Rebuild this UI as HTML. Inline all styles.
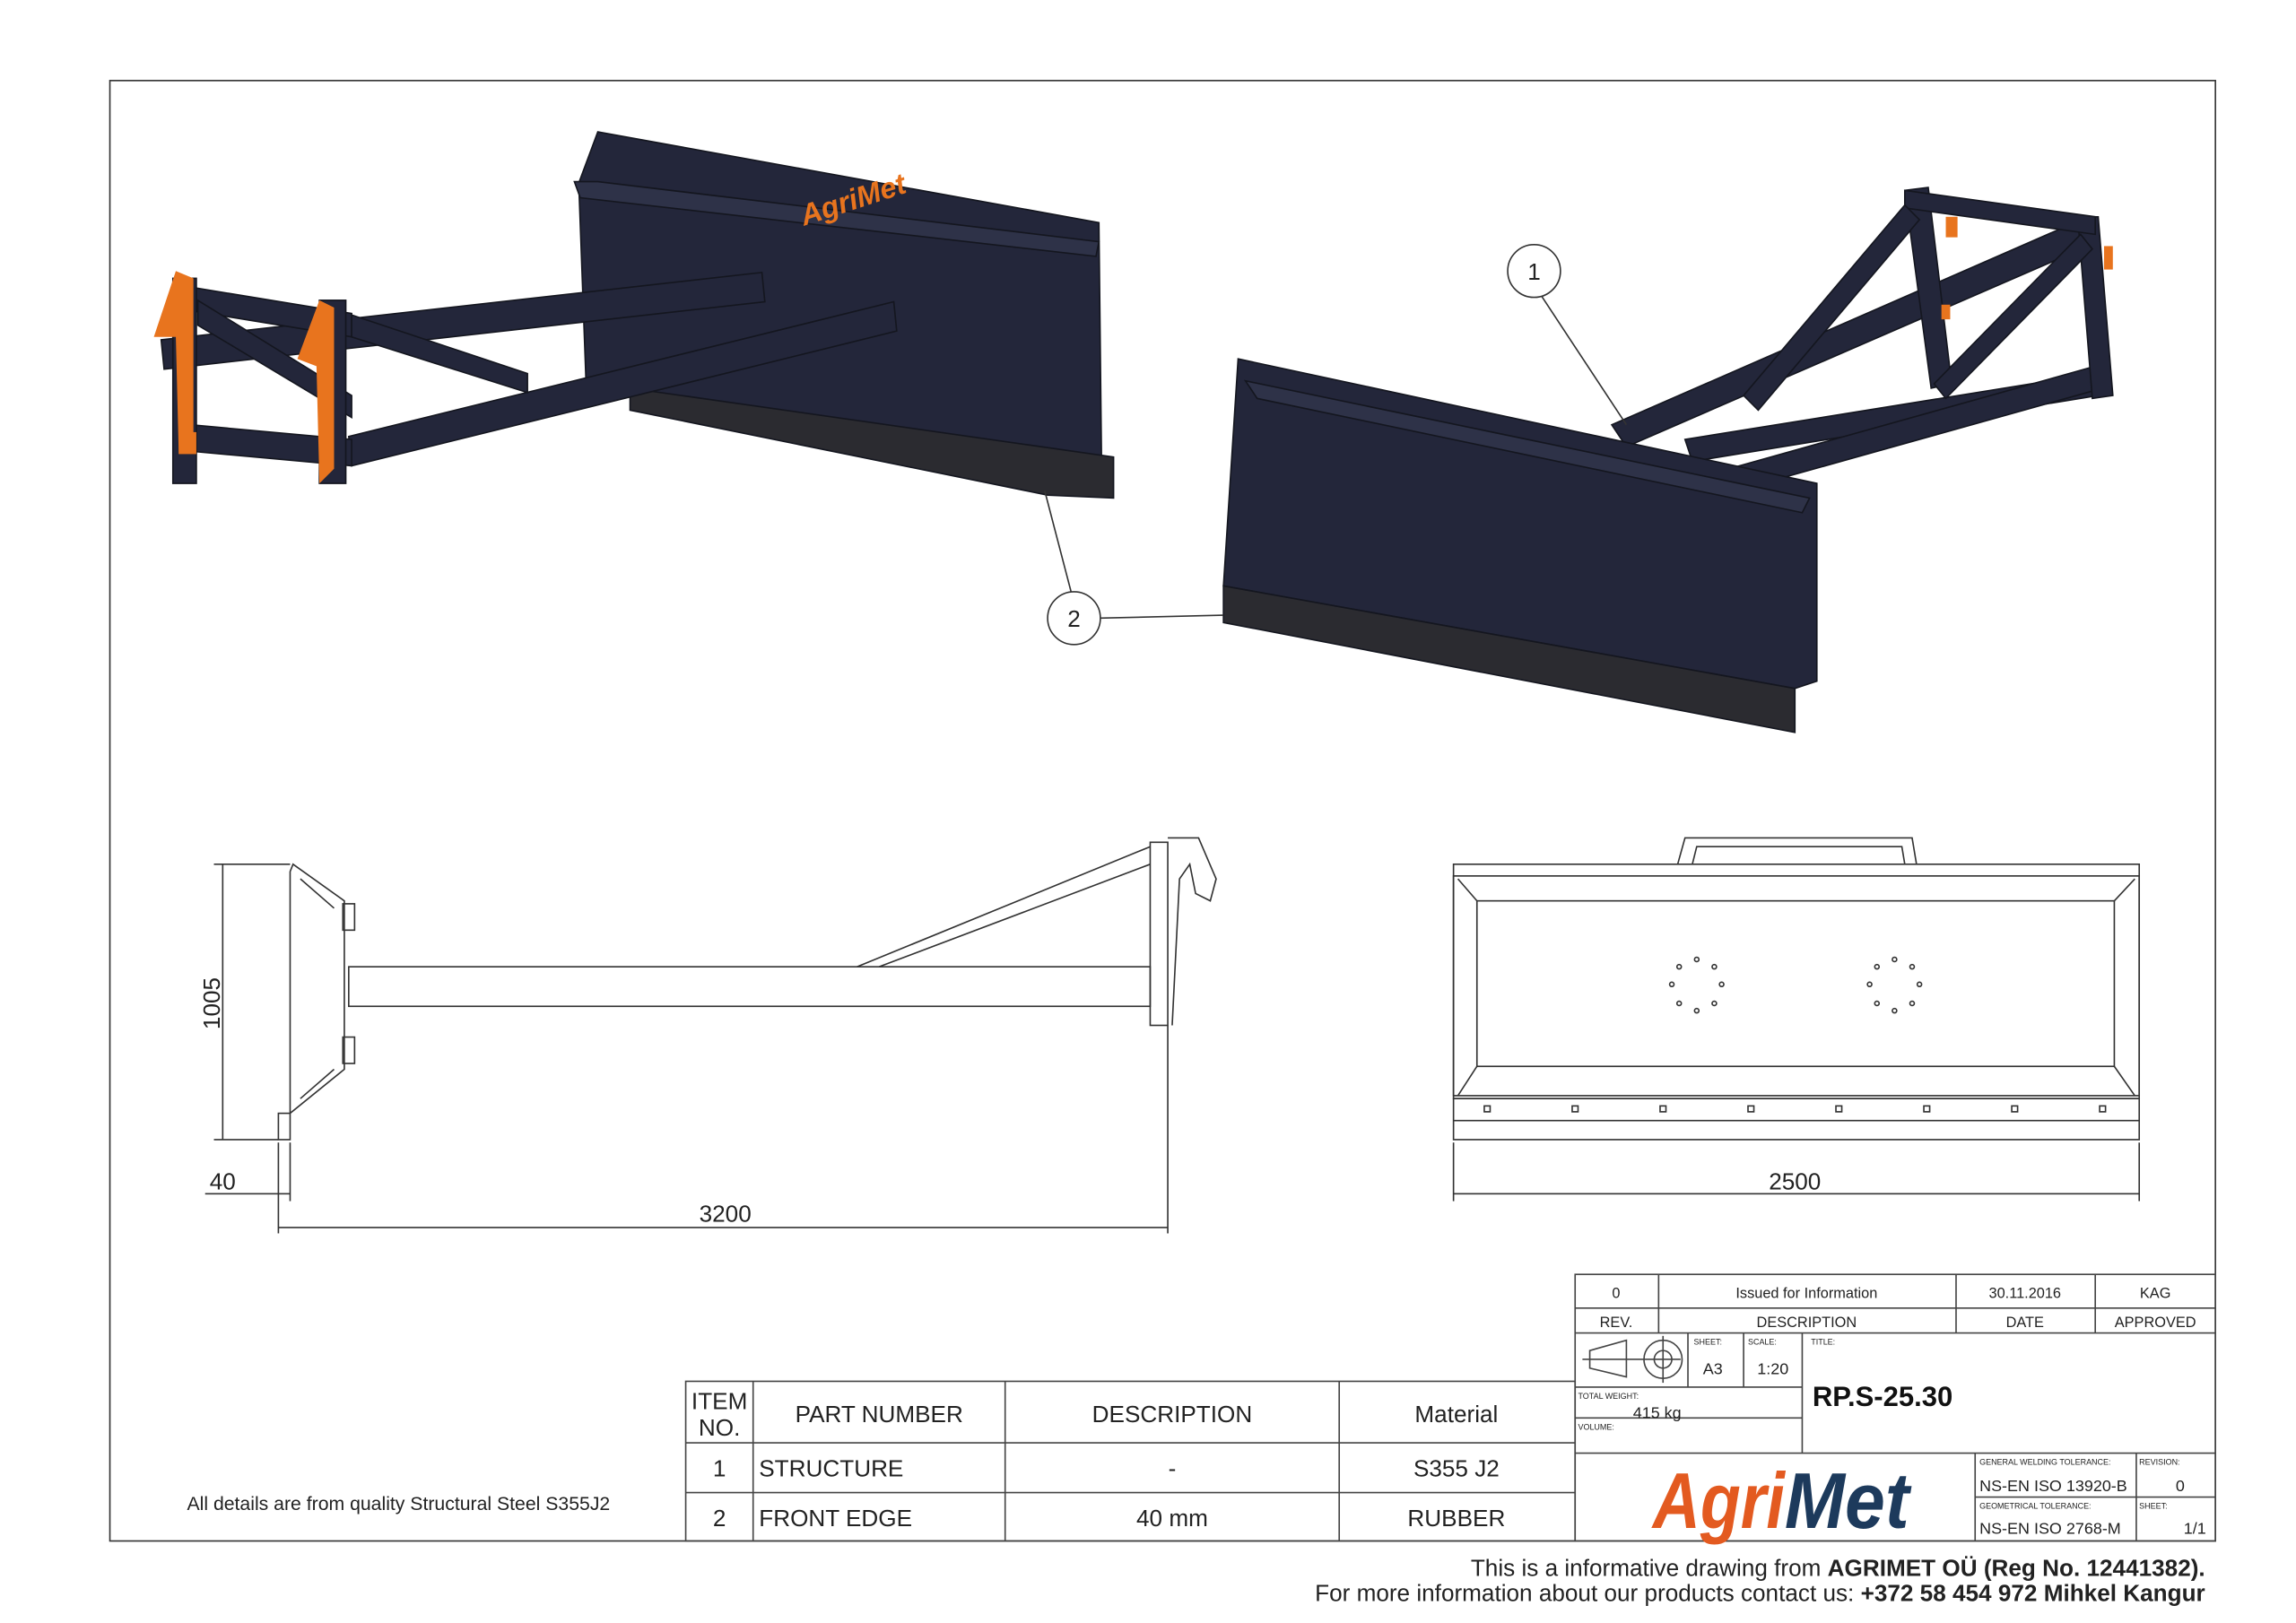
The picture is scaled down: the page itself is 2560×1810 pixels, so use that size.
<!DOCTYPE html>
<html><head><meta charset="utf-8"><style>
html,body{margin:0;padding:0;background:#fff;}
svg{display:block;}
text{font-family:"Liberation Sans",sans-serif;fill:#222;}
</style></head><body>
<svg width="2560" height="1810" viewBox="0 0 1567 1108" preserveAspectRatio="none" xmlns="http://www.w3.org/2000/svg">
<rect x="75" y="55" width="1437" height="997" fill="none" stroke="#333" stroke-width="1"/>

<!-- Left 3D view -->
<g fill="#23263a" stroke="#14161f" stroke-width="1">
<polygon points="395,125 408,90 750,152 752,335 715,330 430,268 400,262"/>
<polygon points="430,265 760,312 760,340 715,338 430,280" fill="#2b2b30"/>
<polygon points="392,124 408,124 750,165 748,175 396,135" fill="#2e3248"/>
<polygon points="110,232 520,186 522,206 112,252"/>
<polygon points="238,298 610,206 612,226 240,318"/>
<polygon points="130,290 240,300 240,318 130,308"/>
<polygon points="130,196 240,214 240,230 130,212"/>
<polygon points="135,205 240,270 240,285 135,222"/>
<polygon points="240,215 360,255 360,268 240,230"/>
<rect x="118" y="190" width="16" height="140"/>
<rect x="218" y="205" width="18" height="125"/>
</g>
<g fill="#e8741e">
<polygon points="105,230 120,185 132,190 132,300 122,310 120,230"/>
<polygon points="203,245 218,205 228,210 228,320 218,330 216,250"/>
<rect x="122" y="295" width="12" height="15"/>
</g>
<text x="545" y="150" font-size="20" fill="#e8741e" transform="rotate(-18 560 140)" style="fill:#e8741e;font-weight:bold;font-style:italic">AgriMet</text>

<!-- Right 3D view -->
<g fill="#23263a" stroke="#14161f" stroke-width="1">
<polygon points="1100,290 1425,148 1432,165 1110,305"/>
<polygon points="1150,300 1430,255 1432,270 1155,315"/>
<polygon points="1180,320 1430,250 1435,265 1185,335"/>
<polygon points="1300,130 1316,128 1332,262 1318,265"/>
<polygon points="1418,148 1432,148 1442,270 1428,272"/>
<polygon points="1300,130 1430,148 1430,160 1300,142"/>
<polygon points="1190,270 1300,140 1310,150 1200,280"/>
<polygon points="1320,262 1420,160 1428,170 1328,272"/>
<polygon points="845,245 1240,330 1240,465 1225,470 835,400"/>
<polygon points="835,400 1225,470 1225,500 835,425" fill="#2b2b30"/>
<polygon points="850,260 1235,340 1230,350 858,272" fill="#2e3248"/>
</g>
<g fill="#e8741e"><rect x="1328" y="148" width="8" height="14"/><rect x="1436" y="168" width="6" height="16"/><rect x="1325" y="208" width="6" height="10"/></g>

<!-- callouts -->
<g fill="#fff" stroke="#333" stroke-width="1">
<line x1="1052" y1="202" x2="1110" y2="290"/>
<circle cx="1047" cy="185" r="18"/>
<line x1="731" y1="404" x2="713" y2="335"/>
<line x1="751" y1="422" x2="835" y2="420"/>
<circle cx="733" cy="422" r="18"/>
</g>
<text x="1047" y="191" font-size="16" text-anchor="middle">1</text>
<text x="733" y="428" font-size="16" text-anchor="middle">2</text>

<!-- Side view -->
<g fill="none" stroke="#333" stroke-width="1">
<polygon points="200,590 235,615 235,730 198,760 190,760 190,778 198,778 198,595"/>
<line x1="205" y1="600" x2="228" y2="620"/>
<line x1="205" y1="750" x2="228" y2="730"/>
<rect x="234" y="617" width="8" height="18"/><rect x="234" y="708" width="8" height="18"/>
<rect x="238" y="660" width="547" height="27"/>
<line x1="585" y1="660" x2="785" y2="578"/>
<line x1="600" y1="660" x2="785" y2="590"/>
<rect x="785" y="575" width="12" height="125"/>
<path d="M797,572 L818,572 L830,600 L826,615 L816,610 L812,590 L805,600 L800,700"/>
<line x1="152" y1="590" x2="152" y2="778"/>
<line x1="146" y1="590" x2="198" y2="590"/>
<line x1="146" y1="778" x2="190" y2="778"/>
<line x1="190" y1="780" x2="190" y2="842"/>
<line x1="797" y1="700" x2="797" y2="842"/>
<line x1="198" y1="780" x2="198" y2="820"/>
<line x1="190" y1="838" x2="797" y2="838"/>
<line x1="140" y1="815" x2="198" y2="815"/>
</g>
<text x="150" y="685" font-size="16" text-anchor="middle" transform="rotate(-90 150 685)">1005</text>
<text x="495" y="834" font-size="16" text-anchor="middle">3200</text>
<text x="152" y="812" font-size="16" text-anchor="middle">40</text>

<!-- Front view -->
<g fill="none" stroke="#333" stroke-width="1">
<path d="M1145,590 L1150,572 L1305,572 L1308,590 M1155,590 L1158,578 L1298,578 L1300,590"/>
<rect x="992" y="590" width="468" height="160"/>
<rect x="992" y="598" width="468" height="150"/>
<rect x="1008" y="615" width="435" height="113"/>
<line x1="995" y1="600" x2="1008" y2="615"/><line x1="1457" y1="600" x2="1443" y2="615"/>
<line x1="995" y1="748" x2="1008" y2="728"/><line x1="1457" y1="748" x2="1443" y2="728"/>
<rect x="992" y="750" width="468" height="28"/>
<line x1="992" y1="765" x2="1460" y2="765"/>
<line x1="992" y1="780" x2="992" y2="820"/><line x1="1460" y1="780" x2="1460" y2="820"/>
<line x1="992" y1="815" x2="1460" y2="815"/>
</g>
<g fill="none" stroke="#333" stroke-width="1">
<rect x="1013" y="755" width="4" height="4"/><rect x="1073" y="755" width="4" height="4"/><rect x="1133" y="755" width="4" height="4"/><rect x="1193" y="755" width="4" height="4"/><rect x="1253" y="755" width="4" height="4"/><rect x="1313" y="755" width="4" height="4"/><rect x="1373" y="755" width="4" height="4"/><rect x="1433" y="755" width="4" height="4"/>
<circle cx="1158" cy="655" r="1.5"/><circle cx="1170" cy="660" r="1.5"/><circle cx="1175" cy="672" r="1.5"/><circle cx="1170" cy="685" r="1.5"/><circle cx="1158" cy="690" r="1.5"/><circle cx="1146" cy="685" r="1.5"/><circle cx="1141" cy="672" r="1.5"/><circle cx="1146" cy="660" r="1.5"/>
<circle cx="1293" cy="655" r="1.5"/><circle cx="1305" cy="660" r="1.5"/><circle cx="1310" cy="672" r="1.5"/><circle cx="1305" cy="685" r="1.5"/><circle cx="1293" cy="690" r="1.5"/><circle cx="1281" cy="685" r="1.5"/><circle cx="1276" cy="672" r="1.5"/><circle cx="1281" cy="660" r="1.5"/>
</g>
<text x="1225" y="812" font-size="16" text-anchor="middle">2500</text>

<!-- BOM table -->
<g fill="none" stroke="#444" stroke-width="1">
<rect x="468" y="943" width="607" height="109"/>
<line x1="468" y1="985" x2="1075" y2="985"/><line x1="468" y1="1019" x2="1075" y2="1019"/>
<line x1="514" y1="943" x2="514" y2="1052"/><line x1="686" y1="943" x2="686" y2="1052"/><line x1="914" y1="943" x2="914" y2="1052"/>
</g>
<g font-size="16">
<text x="491" y="962" text-anchor="middle">ITEM</text><text x="491" y="980" text-anchor="middle">NO.</text>
<text x="600" y="971" text-anchor="middle">PART NUMBER</text>
<text x="800" y="971" text-anchor="middle">DESCRIPTION</text>
<text x="994" y="971" text-anchor="middle">Material</text>
<text x="491" y="1008" text-anchor="middle">1</text><text x="518" y="1008">STRUCTURE</text><text x="800" y="1008" text-anchor="middle">-</text><text x="994" y="1008" text-anchor="middle">S355 J2</text>
<text x="491" y="1042" text-anchor="middle">2</text><text x="518" y="1042">FRONT EDGE</text><text x="800" y="1042" text-anchor="middle">40 mm</text><text x="994" y="1042" text-anchor="middle">RUBBER</text>
</g>
<text x="272" y="1031" font-size="13" text-anchor="middle">All details are from quality Structural Steel S355J2</text>

<!-- Title block -->
<g fill="none" stroke="#444" stroke-width="1">
<rect x="1075" y="870" width="437" height="182"/>
<line x1="1075" y1="893" x2="1512" y2="893"/><line x1="1075" y1="910" x2="1512" y2="910"/>
<line x1="1132" y1="870" x2="1132" y2="910"/><line x1="1335" y1="870" x2="1335" y2="910"/><line x1="1430" y1="870" x2="1430" y2="910"/>
<line x1="1230" y1="910" x2="1230" y2="992"/>
<line x1="1152" y1="910" x2="1152" y2="947"/><line x1="1190" y1="910" x2="1190" y2="947"/>
<line x1="1075" y1="947" x2="1230" y2="947"/><line x1="1075" y1="968" x2="1230" y2="968"/>
<line x1="1075" y1="992" x2="1512" y2="992"/>
<line x1="1348" y1="992" x2="1348" y2="1052"/><line x1="1458" y1="992" x2="1458" y2="1052"/>
<line x1="1348" y1="1022" x2="1512" y2="1022"/>
<path d="M1085,922 L1110,915 L1110,940 L1085,934 Z"/>
<line x1="1080" y1="928" x2="1147" y2="928"/>
<circle cx="1135" cy="928" r="13"/><circle cx="1135" cy="928" r="6"/>
<line x1="1135" y1="912" x2="1135" y2="944"/>
</g>
<g font-size="10" text-anchor="middle">
<text x="1103" y="886">0</text><text x="1233" y="886">Issued for Information</text><text x="1382" y="886">30.11.2016</text><text x="1471" y="886">KAG</text>
<text x="1103" y="906">REV.</text><text x="1233" y="906">DESCRIPTION</text><text x="1382" y="906">DATE</text><text x="1471" y="906">APPROVED</text>
<text x="1169" y="938" font-size="11">A3</text><text x="1210" y="938" font-size="11">1:20</text>
<text x="1131" y="968" font-size="11">415 kg</text>
<text x="1488" y="1018" font-size="11">0</text><text x="1498" y="1047" font-size="11">1/1</text>
<text x="1351" y="1018" font-size="11" text-anchor="start">NS-EN ISO 13920-B</text>
<text x="1351" y="1047" font-size="11" text-anchor="start">NS-EN ISO 2768-M</text>
</g>
<g font-size="5.5">
<text x="1156" y="918">SHEET:</text><text x="1193" y="918">SCALE:</text><text x="1236" y="918">TITLE:</text>
<text x="1077" y="955">TOTAL WEIGHT:</text><text x="1077" y="976">VOLUME:</text>
<text x="1351" y="1000">GENERAL WELDING TOLERANCE:</text><text x="1460" y="1000">REVISION:</text>
<text x="1351" y="1030">GEOMETRICAL TOLERANCE:</text><text x="1460" y="1030">SHEET:</text>
</g>
<text x="1237" y="960" font-size="19" font-weight="bold" style="fill:#111">RP.S-25.30</text>
<text x="1128" y="1043" font-size="54" font-weight="bold" font-style="italic" style="fill:#e35a20" textLength="90" lengthAdjust="spacingAndGlyphs">Agri</text>
<text x="1218" y="1043" font-size="54" font-weight="bold" font-style="italic" style="fill:#1d3a5c" textLength="85" lengthAdjust="spacingAndGlyphs">Met</text>

<!-- footer -->
<text x="1505" y="1076" font-size="16" text-anchor="end">This is a informative drawing from <tspan font-weight="bold">AGRIMET OÜ (Reg No. 12441382).</tspan></text>
<text x="1505" y="1093" font-size="16" text-anchor="end">For more information about our products contact us:  <tspan font-weight="bold">+372 58 454 972 Mihkel Kangur</tspan></text>
</svg>
</body></html>
